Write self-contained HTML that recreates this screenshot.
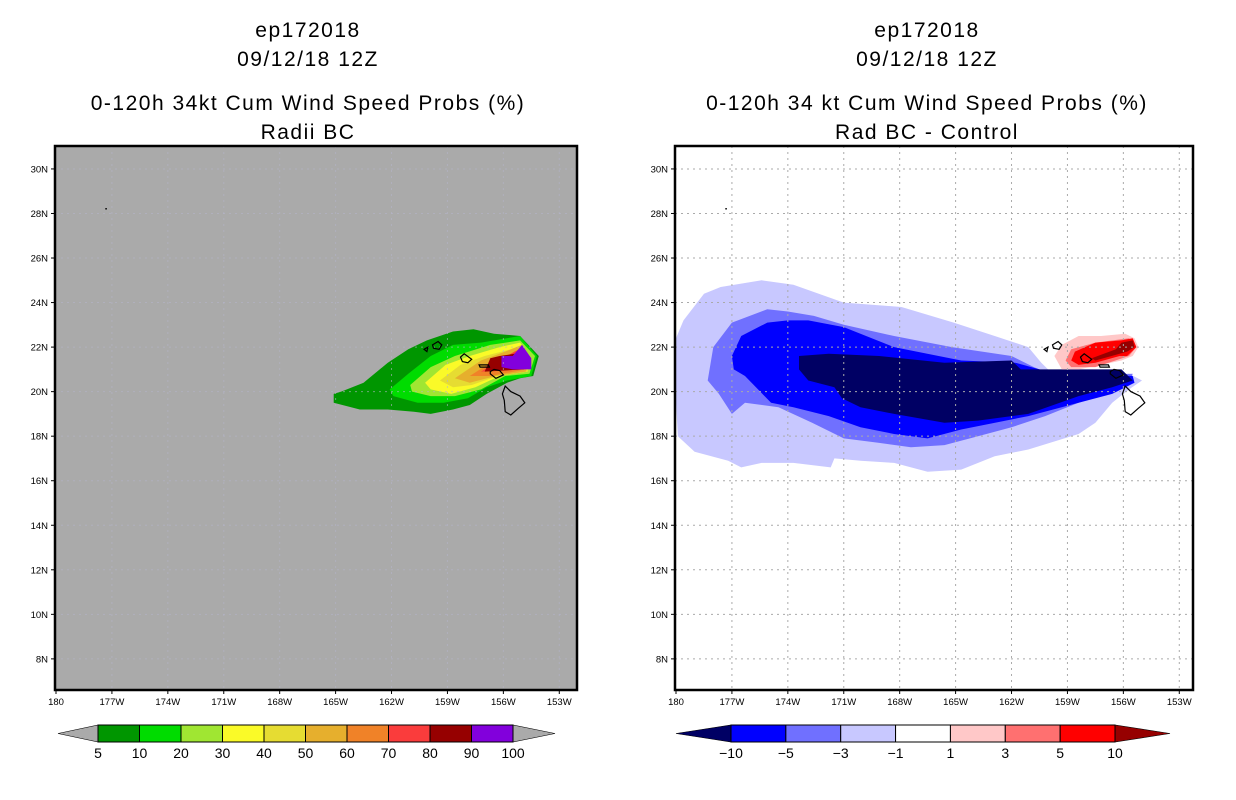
<!DOCTYPE html>
<html><head><meta charset="utf-8">
<style>
html,body{margin:0;padding:0;background:#fff;}
svg{display:block;font-family:"Liberation Sans",sans-serif;}
.t{font-size:21px;letter-spacing:1.5px;text-anchor:middle;fill:#000;}
.tk{font-size:9.5px;fill:#000;}
.cb{font-size:14px;fill:#000;text-anchor:middle;}
</style></head>
<body>
<svg id="s" width="1236" height="800" viewBox="0 0 1236 800">
<text class="t" x="308" y="37">ep172018</text>
<text class="t" x="308" y="66">09/12/18 12Z</text>
<text class="t" x="308" y="110">0-120h 34kt Cum Wind Speed Probs (%)</text>
<text class="t" x="308" y="139">Radii BC</text>
<text class="t" x="927" y="37">ep172018</text>
<text class="t" x="927" y="66">09/12/18 12Z</text>
<text class="t" x="927" y="110">0-120h 34 kt Cum Wind Speed Probs (%)</text>
<text class="t" x="927" y="139">Rad BC - Control</text>
</svg>
<script>
const latTicks=[8,10,12,14,16,18,20,22,24,26,28,30];
const lonTicks=[-180,-177,-174,-171,-168,-165,-162,-159,-156,-153];
const lonLabels=["180","177W","174W","171W","168W","165W","162W","159W","156W","153W"];
// left panel: probability contours (lon,lat)
const probLevels=[5,10,20,30,40,50,60,70,80,90];
const probColors=["#009600","#00dc00","#a0e632","#fafa28","#e6dc32","#e6af2d","#f08228","#fa3c3c","#960000","#8200dc"];
const probPolys=[
[[-165.1,19.9],[-164.7,20.0],[-163.5,20.4],[-162.2,21.3],[-161.1,21.9],[-160.1,22.3],[-158.7,22.7],[-157.6,22.8],[-156.5,22.6],[-155.1,22.5],[-154.1,21.6],[-154.4,20.7],[-155.1,20.6],[-155.8,20.4],[-156.9,19.9],[-157.8,19.4],[-158.7,19.2],[-159.9,19.0],[-160.8,19.1],[-162.2,19.2],[-163.7,19.2],[-165.1,19.5]],
[[-162.1,20.1],[-161.1,20.8],[-159.9,21.6],[-158.7,22.1],[-157.2,22.2],[-155.1,22.5],[-154.2,21.6],[-154.5,20.7],[-155.8,20.5],[-156.9,20.2],[-157.9,19.7],[-159.2,19.5],[-160.6,19.5],[-161.9,19.8]],
[[-161.0,20.3],[-159.9,21.1],[-158.6,21.6],[-156.7,22.1],[-155.1,22.3],[-154.3,21.6],[-154.6,20.8],[-155.9,20.7],[-157.2,20.1],[-158.6,19.8],[-159.9,19.8],[-160.9,20.0]],
[[-160.2,20.4],[-159.1,21.2],[-157.8,21.6],[-156.2,22.0],[-155.1,22.2],[-154.5,21.5],[-154.7,20.9],[-156.2,20.7],[-157.5,20.2],[-158.8,19.9],[-159.9,20.1]],
[[-159.4,20.5],[-158.3,21.2],[-157.0,21.6],[-155.6,21.9],[-155.0,22.1],[-154.5,21.5],[-154.7,20.9],[-156.3,20.7],[-157.7,20.3],[-158.7,20.2]],
[[-158.6,20.6],[-157.2,21.4],[-155.9,21.8],[-155.0,22.1],[-154.6,21.4],[-154.8,20.9],[-156.4,20.7],[-157.8,20.4]],
[[-157.8,20.7],[-156.7,21.3],[-155.6,21.7],[-155.0,22.0],[-154.6,21.4],[-154.8,21.0],[-156.7,20.7]],
[[-157.2,20.9],[-156.4,21.3],[-155.4,21.8],[-155.0,21.9],[-154.7,21.3],[-154.9,21.0]],
[[-157.0,20.9],[-156.7,21.5],[-156.2,21.6],[-155.4,21.7],[-155.0,21.9],[-154.7,21.3],[-154.9,21.0]],
[[-156.1,21.6],[-155.5,21.6],[-155.0,22.1],[-154.5,21.5],[-154.5,21.0],[-155.5,21.0],[-156.1,21.1]]
];
// right panel: difference contours
const diffColors=["#c8c8ff","#7070ff","#0000ff","#000064","#ffc8c8","#ff7070","#ff0000","#960000"];
const diffPolys=[
[[-180.0,22.4],[-179.6,23.2],[-178.5,24.4],[-177.6,24.7],[-175.4,25.0],[-173.7,24.8],[-171.0,24.0],[-167.9,23.8],[-165.1,23.1],[-162.9,22.5],[-161.1,22.0],[-160.4,21.3],[-159.8,20.8],[-158.8,20.7],[-155.7,20.8],[-155.0,20.5],[-155.7,20.1],[-156.6,19.5],[-157.5,18.6],[-158.4,18.1],[-161.1,17.4],[-162.9,17.1],[-164.7,16.5],[-166.5,16.4],[-168.3,16.8],[-170.1,16.9],[-171.5,17.0],[-171.7,16.6],[-173.7,16.8],[-175.4,16.8],[-176.5,16.6],[-177.2,16.9],[-179.0,17.3],[-179.9,18.0],[-180.0,19.5]],
[[-178.3,20.5],[-178.0,22.0],[-177.0,23.1],[-175.1,23.7],[-174.0,23.6],[-172.6,23.4],[-171.0,23.0],[-168.3,22.5],[-165.2,22.0],[-162.0,21.6],[-160.8,21.1],[-160.2,20.9],[-159.3,20.7],[-155.5,20.8],[-155.7,20.3],[-158.4,19.5],[-160.2,18.9],[-162.0,18.4],[-163.8,18.0],[-165.6,17.6],[-167.4,17.5],[-169.1,17.7],[-171.0,17.9],[-172.7,18.6],[-174.5,19.3],[-176.3,19.5],[-177.0,19.0],[-177.7,19.9]],
[[-177.0,21.6],[-176.5,22.5],[-175.1,23.1],[-174.0,23.2],[-172.9,23.2],[-171.0,22.9],[-168.3,22.0],[-164.7,21.4],[-161.8,21.3],[-160.5,21.0],[-159.8,20.8],[-158.4,20.8],[-155.5,20.7],[-155.4,20.4],[-156.6,19.9],[-158.4,19.5],[-161.1,18.9],[-164.7,18.3],[-166.5,17.9],[-168.3,18.1],[-170.1,18.4],[-171.8,18.9],[-173.7,19.3],[-174.9,19.5],[-176.3,20.7],[-176.9,21.0]],
[[-173.4,21.6],[-171.8,21.7],[-169.1,21.6],[-165.6,21.3],[-162.0,21.4],[-161.5,21.0],[-160.0,21.0],[-156.1,21.0],[-155.5,20.5],[-156.6,20.2],[-158.4,19.8],[-161.1,19.0],[-163.8,18.7],[-165.6,18.6],[-168.3,19.0],[-170.1,19.3],[-171.1,19.7],[-171.5,20.2],[-172.9,20.5],[-173.4,21.0]],
[[-159.7,21.6],[-159.3,22.1],[-158.4,22.5],[-157.2,22.5],[-155.9,22.6],[-155.4,22.4],[-155.2,22.0],[-155.5,21.6],[-156.1,21.4],[-157.2,21.2],[-158.4,21.0],[-159.3,21.0]],
[[-159.1,21.4],[-158.8,21.9],[-157.5,22.2],[-155.7,22.4],[-155.3,22.0],[-155.7,21.6],[-157.5,21.1],[-158.8,21.1]],
[[-158.8,21.4],[-158.6,21.8],[-157.5,22.2],[-156.1,22.3],[-155.5,22.4],[-155.3,22.0],[-155.8,21.6],[-156.2,21.6],[-157.5,21.3],[-158.4,21.2]],
[[-157.7,21.5],[-156.4,21.9],[-156.1,22.2],[-155.5,22.3],[-155.4,22.0],[-155.8,21.8],[-156.2,21.7],[-157.5,21.4]]
];
const islands=[
[[-155.9,20.25],[-155.6,20.0],[-155.1,19.8],[-154.85,19.5],[-155.2,19.25],[-155.6,18.95],[-155.9,19.1],[-155.95,19.6],[-156.05,19.9]],
[[-156.7,20.9],[-156.5,21.0],[-156.2,20.95],[-156.0,20.75],[-156.4,20.6],[-156.7,20.8]],
[[-157.3,21.2],[-156.8,21.2],[-156.75,21.1],[-157.25,21.1]],
[[-158.3,21.55],[-158.1,21.7],[-157.7,21.45],[-157.9,21.3],[-158.2,21.35]],
[[-159.8,22.1],[-159.5,22.25],[-159.3,22.1],[-159.45,21.9],[-159.75,21.95]],
[[-160.25,21.9],[-160.05,22.0],[-160.1,21.8]]
];
const ns="http://www.w3.org/2000/svg";
const svg=document.getElementById('s');
function el(tag,attrs,parent){const e=document.createElementNS(ns,tag);for(const k in attrs)e.setAttribute(k,attrs[k]);(parent||svg).appendChild(e);return e;}
function panel(x0,x1,bg,polys,colors,grid,prefix){
  const y0=146,y1=690;
  const X=lon=>x0+1+(lon+180)*18.64;
  const Y=lat=>y0+(31.03-lat)*22.27;
  const g=el('g',{});
  
  
  el('clipPath',{id:prefix+'clip'},g).appendChild(Object.assign(document.createElementNS(ns,'rect'),{}));
  const cr=g.querySelector('clipPath');cr.firstChild.setAttribute('x',x0);cr.firstChild.setAttribute('y',y0);cr.firstChild.setAttribute('width',x1-x0);cr.firstChild.setAttribute('height',y1-y0);
  const bgr=el('rect',{x:x0,y:y0,width:x1-x0,height:y1-y0,fill:bg},g);
  
  
  const cg=el('g',{'clip-path':'url(#'+prefix+'clip)'},g);
  polys.forEach((p,i)=>{
    const pg=el('polygon',{points:p.map(q=>X(q[0]).toFixed(1)+','+Y(q[1]).toFixed(1)).join(' '),fill:colors[i]},cg);
    
    
  });
  const gc=grid?'#aaaaaa':'#b4b4c8';
  lonTicks.forEach(l=>{if(l>-180)el('line',{x1:X(l),x2:X(l),y1:y0,y2:y1,stroke:gc,'stroke-dasharray':'2,4','stroke-width':1,opacity:grid?1:0.6},cg);});
  latTicks.forEach(l=>el('line',{x1:x0,x2:x1,y1:Y(l),y2:Y(l),stroke:gc,'stroke-dasharray':'2,4','stroke-width':1,opacity:grid?1:0.6},cg));
  islands.forEach((p,i)=>{
    const ip=el('polygon',{points:p.map(q=>X(q[0]).toFixed(1)+','+Y(q[1]).toFixed(1)).join(' '),fill:'none',stroke:'#000','stroke-width':1.2},cg);
    
    
  });
  el('rect',{x:X(-177.3)-1,y:Y(28.2)-1,width:1.5,height:1.5,fill:'#000'},cg);
  const fr=el('rect',{x:x0,y:y0,width:x1-x0,height:y1-y0,fill:'none',stroke:'#000','stroke-width':2.5},g);
  
  
  latTicks.forEach(l=>{
    el('line',{x1:x0-4,x2:x0,y1:Y(l),y2:Y(l),stroke:'#000'},g);
    const t=el('text',{x:x0-7,y:Y(l)+3.5,class:'tk','text-anchor':'end'},g);t.textContent=l+'N';
    
    
  });
  lonTicks.forEach((l,i)=>{
    el('line',{x1:X(l),x2:X(l),y1:y1,y2:y1+4,stroke:'#000'},g);
    const t=el('text',{x:X(l),y:y1+15,class:'tk','text-anchor':'middle'},g);t.textContent=lonLabels[i];
    
    
  });
}
panel(55,577,'#aaaaaa',probPolys,probColors,false,'left');
panel(675,1193,'#ffffff',diffPolys,diffColors,true,'right');
// colorbars
const probBarLabels=["5","10","20","30","40","50","60","70","80","90","100"];
const diffBarColors=["#0000ff","#7070ff","#c8c8ff","#ffffff","#ffc8c8","#ff7070","#ff0000"];
const diffBarLabels=["\u221210","\u22125","\u22123","\u22121","1","3","5","10"];
function colorbar(xa,xb,tipL,tipR,cols,labels,lcol,rcol,prefix){
  const y0=725,y1=742,ym=733.5,n=cols.length,w=(xb-xa)/n;
  const g=el('g',{});
  
  
  el('polygon',{points:`${tipL},${ym} ${xa},${y0} ${xa},${y1}`,fill:lcol,stroke:'#000','stroke-width':0.6},g);
  el('polygon',{points:`${tipR},${ym} ${xb},${y0} ${xb},${y1}`,fill:rcol,stroke:'#000','stroke-width':0.6},g);
  cols.forEach((c,i)=>el('rect',{x:xa+i*w,y:y0,width:w,height:y1-y0,fill:c,stroke:'#000','stroke-width':1},g));
  labels.forEach((s,i)=>{const t=el('text',{x:xa+i*w,y:758,class:'cb'},g);t.textContent=s;
    
    });
}
colorbar(98,513,58,555,probColors,probBarLabels,'#aaaaaa','#aaaaaa','left');
colorbar(731,1115,676,1170,diffBarColors,diffBarLabels,'#000064','#960000','right');
</script>
</body></html>
